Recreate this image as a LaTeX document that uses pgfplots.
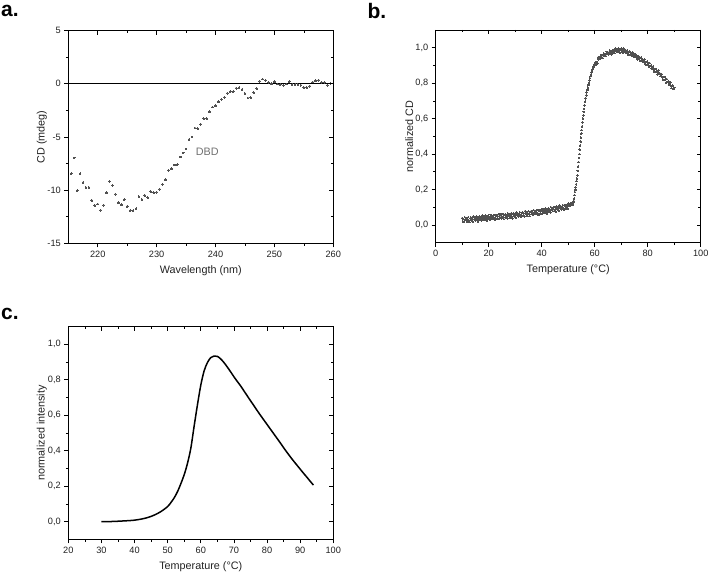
\documentclass[border=0pt]{standalone}
\usepackage{pgfplots}
\pgfplotsset{compat=1.18}
\usepackage{fontspec}
\setmainfont{Liberation Sans}
\definecolor{dotgray}{HTML}{505050}
\definecolor{txt}{HTML}{222222}
\definecolor{lblgray}{HTML}{707070}

\pgfplotsset{
  panel/.style={
    scale only axis, width=265pt, height=212.7pt,
    axis line style={line width=0.8pt, black},
    tick style={line width=0.7pt, black},
    major tick length=4pt, minor tick length=2.5pt,
    ticklabel style={font=\fontsize{9.2}{10}\selectfont, text=txt},
    label style={font=\fontsize{10.8}{12}\selectfont, text=txt},
    /pgf/number format/assume math mode=true,
    xlabel style={at={(axis description cs:0.5,-0.127)}, anchor=center},
    ylabel style={at={(axis description cs:-0.1,0.5)}, anchor=center},
    minor x tick num=1, minor y tick num=1,
  },
  mainax/.style={panel, tick align=outside, xtick pos=left, ytick pos=left},
  mirrorax/.style={panel, tick align=inside, xtick pos=right, ytick pos=right, xticklabels={}, yticklabels={}},
  commay/.style={yticklabel style={/pgf/number format/.cd, fixed, fixed zerofill, precision=1, use comma}},
}

\begin{document}
\begin{tikzpicture}[x=1pt,y=1pt]
\useasboundingbox (0,0) rectangle (708,574);

% ---------- panel a ----------
\begin{axis}[mainax, at={(68.3pt,330.7pt)}, anchor=south west,
  xmin=215, xmax=260, ymin=-15, ymax=5,
  xtick={220,230,240,250,260}, ytick={-15,-10,-5,0,5},
  xlabel={Wavelength (nm)}, ylabel={CD (mdeg)}]
\addplot[black, line width=0.6pt, forget plot] coordinates {(215,0) (260,0)};
\addplot[only marks, mark=*, mark size=0.9pt, mark options={fill=dotgray, draw=dotgray, line width=0pt}] coordinates {
(215.5,-8.44) (216,-6.97) (216.5,-10.06) (217,-8.47) (217.5,-9.28) (218,-9.75) (218.5,-9.75) (219,-10.97) (219.5,-11.44) (220,-11.31)
(220.5,-11.88) (221,-11.41) (221.5,-10.25) (222,-9.19) (222.5,-9.56) (223,-10.38) (223.5,-11.19) (224,-11.38) (224.5,-10.88) (225,-11.53)
(225.5,-11.94) (226,-11.94) (226.5,-11.75) (227,-10.63) (227.5,-10.88) (228,-10.5) (228.5,-10.69) (229,-10.13) (229.5,-10.25) (230,-10.19)
(230.5,-9.91) (231,-9.47) (231.5,-9.03) (232,-8.13) (232.5,-8.0) (233,-7.63) (233.5,-7.59) (234,-6.88) (234.5,-6.5) (235,-6.13)
(235.5,-5.25) (236,-5.0) (236.5,-4.16) (237,-4.22) (237.5,-3.81) (238,-3.28) (238.5,-3.28) (239,-2.63) (239.5,-2.19) (240,-2.06)
(240.5,-1.69) (241,-1.47) (241.5,-1.28) (242,-0.88) (242.5,-0.72) (243,-0.75) (243.5,-0.41) (244,-0.38) (244.5,-0.53) (245,-0.91)
(245.5,-1.34) (246,-1.31) (246.5,-0.84) (247,-0.44) (247.5,0.25) (248,0.44) (248.5,0.31) (249,0.13) (249.5,0) (250,0.19)
(250.5,-0.03) (251,-0.06) (251.5,-0.13) (252,-0.03) (252.5,0.19) (253,-0.06) (253.5,-0.06) (254,-0.06) (254.5,-0.13) (255,-0.34)
(255.5,-0.38) (256,-0.22) (256.5,0.16) (257,0.28) (257.5,0.34) (258,0.13) (258.5,0.13) (259,-0.13) (259.5,0.03)
};
\node[text=lblgray, font=\fontsize{10.8}{12}\selectfont] at (axis cs:238.6,-6.4) {DBD};
\end{axis}
\begin{axis}[mirrorax, at={(68.3pt,330.7pt)}, anchor=south west,
  xmin=215, xmax=260, ymin=-15, ymax=5,
  xtick={220,230,240,250,260}, ytick={-15,-10,-5,0,5}]
\end{axis}

% ---------- panel b ----------
\begin{axis}[mainax, commay, at={(435.7pt,331.3pt)}, anchor=south west,
  xmin=0, xmax=100, ymin=-0.1, ymax=1.1,
  xtick={0,20,40,60,80,100}, ytick={0,0.2,0.4,0.6,0.8,1},
  xlabel={Temperature (°C)}, ylabel={normalized CD}]
\addplot[only marks, mark=*, mark size=0.8pt, mark options={fill=dotgray, draw=dotgray, line width=0pt}] coordinates {
(10.00,0.039) (10.25,0.021) (10.50,0.033) (10.75,0.016) (11.00,0.044) (11.25,0.028) (11.50,0.038) (11.75,0.020) (12.00,0.032) (12.25,0.044)
(12.50,0.026) (12.75,0.016) (13.00,0.038) (13.25,0.043) (13.50,0.026) (13.75,0.037) (14.00,0.020) (14.25,0.049) (14.50,0.032) (14.75,0.042)
(15.00,0.025) (15.25,0.036) (15.50,0.048) (15.75,0.031) (16.00,0.020) (16.25,0.042) (16.50,0.048) (16.75,0.030) (17.00,0.041) (17.25,0.025)
(17.50,0.053) (17.75,0.036) (18.00,0.047) (18.25,0.029) (18.50,0.040) (18.75,0.053) (19.00,0.035) (19.25,0.024) (19.50,0.047) (19.75,0.052)
(20.00,0.034) (20.25,0.046) (20.50,0.029) (20.75,0.057) (21.00,0.041) (21.25,0.051) (21.50,0.034) (21.75,0.045) (22.00,0.057) (22.25,0.040)
(22.50,0.029) (22.75,0.051) (23.00,0.057) (23.25,0.039) (23.50,0.050) (23.75,0.034) (24.00,0.062) (24.25,0.045) (24.50,0.056) (24.75,0.038)
(25.00,0.049) (25.25,0.062) (25.50,0.044) (25.75,0.033) (26.00,0.056) (26.25,0.061) (26.50,0.043) (26.75,0.055) (27.00,0.038) (27.25,0.066)
(27.50,0.050) (27.75,0.060) (28.00,0.042) (28.25,0.054) (28.50,0.066) (28.75,0.048) (29.00,0.038) (29.25,0.060) (29.50,0.065) (29.75,0.048)
(30.00,0.059) (30.25,0.043) (30.50,0.071) (30.75,0.055) (31.00,0.065) (31.25,0.048) (31.50,0.059) (31.75,0.072) (32.00,0.054) (32.25,0.044)
(32.50,0.066) (32.75,0.072) (33.00,0.054) (33.25,0.066) (33.50,0.049) (33.75,0.078) (34.00,0.061) (34.25,0.072) (34.50,0.054) (34.75,0.066)
(35.00,0.078) (35.25,0.061) (35.50,0.050) (35.75,0.073) (36.00,0.078) (36.25,0.061) (36.50,0.072) (36.75,0.056) (37.00,0.084) (37.25,0.068)
(37.50,0.078) (37.75,0.061) (38.00,0.072) (38.25,0.085) (38.50,0.067) (38.75,0.057) (39.00,0.079) (39.25,0.085) (39.50,0.067) (39.75,0.079)
(40.00,0.062) (40.25,0.091) (40.50,0.075) (40.75,0.085) (41.00,0.068) (41.25,0.080) (41.50,0.093) (41.75,0.075) (42.00,0.065) (42.25,0.088)
(42.50,0.094) (42.75,0.076) (43.00,0.088) (43.25,0.072) (43.50,0.101) (43.75,0.084) (44.00,0.095) (44.25,0.078) (44.50,0.090) (44.75,0.102)
(45.00,0.085) (45.25,0.075) (45.50,0.098) (45.75,0.103) (46.00,0.086) (46.25,0.098) (46.50,0.082) (46.75,0.110) (47.00,0.094) (47.25,0.105)
(47.50,0.088) (47.75,0.099) (48.00,0.112) (48.25,0.095) (48.50,0.085) (48.75,0.107) (49.00,0.113) (49.25,0.096) (49.50,0.108) (49.75,0.091)
(50.00,0.120) (50.25,0.107) (50.50,0.114) (50.75,0.108) (51.00,0.116) (51.25,0.124) (51.50,0.117) (51.75,0.115) (52.00,0.128)
(52.10,0.135) (52.25,0.150) (52.40,0.168) (52.55,0.185) (52.70,0.198) (52.85,0.212) (53.00,0.230) (53.15,0.248) (53.30,0.262) (53.45,0.280)
(53.60,0.305) (53.75,0.330) (53.90,0.355) (54.05,0.378) (54.20,0.400) (54.35,0.425) (54.50,0.448) (54.65,0.470) (54.80,0.492) (54.95,0.515)
(55.10,0.535) (55.25,0.556) (55.40,0.578) (55.55,0.600) (55.70,0.618) (55.85,0.638) (56.00,0.655) (56.20,0.675) (56.40,0.695) (56.60,0.715)
(56.80,0.732) (57.00,0.748) (57.20,0.762) (57.40,0.775) (57.60,0.790) (57.80,0.802) (58.00,0.815) (58.20,0.828) (58.40,0.840) (58.60,0.850)
(58.80,0.860) (59.00,0.870) (59.20,0.878) (59.40,0.886) (59.60,0.893) (59.80,0.898) (60.00,0.905)
(60.25,0.915) (60.50,0.906) (60.75,0.920) (61.00,0.912) (61.25,0.945) (61.50,0.935) (61.75,0.947) (62.00,0.937) (62.25,0.948) (62.50,0.959)
(62.75,0.947) (63.00,0.941) (63.25,0.961) (63.50,0.967) (63.75,0.954) (64.00,0.965) (64.25,0.953) (64.50,0.977) (64.75,0.965) (65.00,0.975)
(65.25,0.962) (65.50,0.973) (65.75,0.983) (66.00,0.971) (66.25,0.963) (66.50,0.982) (66.75,0.987) (67.00,0.973) (67.25,0.983) (67.50,0.970)
(67.75,0.994) (68.00,0.981) (68.25,0.990) (68.50,0.976) (68.75,0.986) (69.00,0.995) (69.25,0.982) (69.50,0.973) (69.75,0.992) (70.00,0.996)
(70.25,0.980) (70.50,0.988) (70.75,0.973) (71.00,0.994) (71.25,0.979) (71.50,0.986) (71.75,0.971) (72.00,0.979) (72.25,0.986) (72.50,0.971)
(72.75,0.960) (73.00,0.977) (73.25,0.979) (73.50,0.962) (73.75,0.970) (74.00,0.954) (74.25,0.975) (74.50,0.959) (74.75,0.965) (75.00,0.949)
(75.25,0.955) (75.50,0.962) (75.75,0.946) (76.00,0.935) (76.25,0.951) (76.50,0.952) (76.75,0.935) (77.00,0.942) (77.25,0.926) (77.50,0.946)
(77.75,0.930) (78.00,0.936) (78.25,0.920) (78.50,0.926) (78.75,0.933) (79.00,0.916) (79.25,0.905) (79.50,0.920) (79.75,0.922) (80.00,0.904)
(80.25,0.910) (80.50,0.893) (80.75,0.913) (81.00,0.896) (81.25,0.900) (81.50,0.883) (81.75,0.889) (82.00,0.895) (82.25,0.878) (82.50,0.865)
(82.75,0.880) (83.00,0.880) (83.25,0.862) (83.50,0.868) (83.75,0.850) (84.00,0.870) (84.25,0.853) (84.50,0.857) (84.75,0.840) (85.00,0.845)
(85.25,0.851) (85.50,0.833) (85.75,0.821) (86.00,0.835) (86.25,0.835) (86.50,0.817) (86.75,0.822) (87.00,0.804) (87.25,0.823) (87.50,0.806)
(87.75,0.810) (88.00,0.792) (88.25,0.797) (88.50,0.803) (88.75,0.785) (89.00,0.772) (89.25,0.786) (89.50,0.787) (89.75,0.768) (90.00,0.773)
};
\end{axis}
\begin{axis}[mirrorax, at={(435.7pt,331.3pt)}, anchor=south west,
  xmin=0, xmax=100, ymin=-0.1, ymax=1.1,
  xtick={0,20,40,60,80,100}, ytick={0,0.2,0.4,0.6,0.8,1}]
\end{axis}

% ---------- panel c ----------
\begin{axis}[mainax, commay, at={(68.3pt,34.7pt)}, anchor=south west,
  xmin=20, xmax=100, ymin=-0.1, ymax=1.1,
  xtick={20,30,40,50,60,70,80,90,100}, ytick={0,0.2,0.4,0.6,0.8,1},
  xlabel={Temperature (°C)}, ylabel={normalized intensity}]
\addplot[black, line width=1.5pt, smooth, tension=0.5] coordinates {
(30,0.000) (32,0.000) (34,0.001) (36,0.003) (38,0.005) (40,0.008) (42,0.014) (44,0.023) (46,0.037) (48,0.057) (50,0.085)
(51,0.108) (52,0.135) (53,0.17) (54,0.215) (55,0.265) (56,0.33) (57,0.415) (58,0.54) (59,0.66) (60,0.77) (61,0.85)
(62,0.897) (63,0.925) (64,0.934) (65,0.932) (66,0.918) (67,0.897) (68,0.872) (69,0.845) (70,0.817) (71,0.791) (72,0.766) (73,0.738) (74,0.71)
(75,0.682) (76,0.655) (77,0.627) (78,0.60) (79,0.574) (80,0.548) (81,0.522) (82,0.496) (83,0.470) (84,0.444) (85,0.417) (86,0.391)
(87,0.366) (88,0.342) (89,0.319) (90,0.296) (91,0.273) (92,0.251) (93,0.228) (94,0.206)
};
\end{axis}
\begin{axis}[mirrorax, at={(68.3pt,34.7pt)}, anchor=south west,
  xmin=20, xmax=100, ymin=-0.1, ymax=1.1,
  xtick={20,30,40,50,60,70,80,90,100}, ytick={0,0.2,0.4,0.6,0.8,1}]
\end{axis}

% panel letters
\node[anchor=base west, inner sep=0pt, font=\bfseries\fontsize{21}{21}\selectfont] at (1,557.3) {a.};
\node[anchor=base west, inner sep=0pt, font=\bfseries\fontsize{21}{21}\selectfont] at (367.3,555.7) {b.};
\node[anchor=base west, inner sep=0pt, font=\bfseries\fontsize{21}{21}\selectfont] at (1,254.7) {c.};
\end{tikzpicture}
\end{document}
